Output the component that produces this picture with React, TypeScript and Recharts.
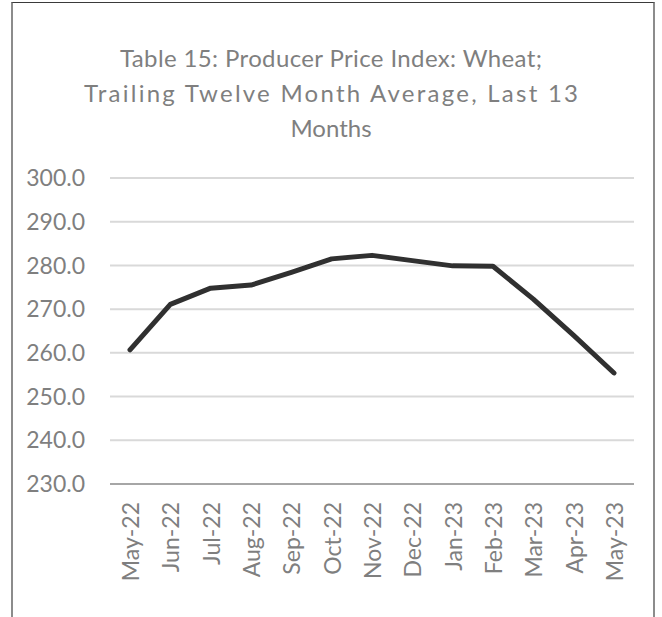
import React from 'react';
import { LineChart, Line, XAxis, YAxis, CartesianGrid } from 'recharts';

const months = ['May-22', 'Jun-22', 'Jul-22', 'Aug-22', 'Sep-22', 'Oct-22', 'Nov-22', 'Dec-22', 'Jan-23', 'Feb-23', 'Mar-23', 'Apr-23', 'May-23'];
const ppiValues = [260.7, 271.1, 274.8, 275.5, 278.4, 281.5, 282.3, 281.1, 279.9, 279.8, 272.3, 264.0, 255.4];
const yTicks = [230, 240, 250, 260, 270, 280, 290, 300];
const titleLines = ['Table 15: Producer Price Index: Wheat;', 'Trailing Twelve Month Average, Last 13', 'Months'];
const titleLengths = [422, 494, undefined];

const data = months.map((m, i) => ({ month: m, value: ppiValues[i] }));

const FONT = 'Lato, "Open Sans", sans-serif';
const TEXT_COLOR = '#7f7f7f';

const XTick = (props: any) => {
  const { x, y, payload } = props;
  return (
    <text
      transform={`translate(${x},${y + 18}) rotate(-90)`}
      textAnchor="end"
      dominantBaseline="central"
      fill={TEXT_COLOR}
      fontSize={23}
      fontFamily={FONT}
    >
      {payload.value}
    </text>
  );
};

export default function App() {
  return (
    <div style={{ position: 'absolute', left: 0, top: 0, width: 662, height: 617, overflow: 'hidden', background: '#fff' }}>
      <div
        style={{
          position: 'absolute',
          left: 11,
          top: 2,
          width: 640,
          height: 640,
          borderTop: '1px solid #3a3a3a',
          borderLeft: '2px solid #8c8c8c',
          borderRight: '2px solid #8c8c8c',
        }}
      />
      <svg style={{ position: 'absolute', left: 0, top: 0 }} width={662} height={150}>
        {titleLines.map((t, i) => (
          <text
            key={t}
            x={331}
            y={57 + i * 35}
            textAnchor="middle"
            dominantBaseline="central"
            fontFamily={FONT}
            fontSize={24}
            fill={TEXT_COLOR}
            textLength={titleLengths[i]}
            lengthAdjust="spacing"
          >
            {t}
          </text>
        ))}
      </svg>
      <div style={{ position: 'absolute', left: 0, top: 0 }}>
        <LineChart width={662} height={617} data={data} margin={{ top: 178, right: 28, bottom: 0, left: 0 }}>
          <CartesianGrid horizontal vertical={false} stroke="#d9d9d9" strokeWidth={2} />
          <XAxis
            dataKey="month"
            interval={0}
            height={133}
            tickLine={false}
            tickSize={0}
            tickMargin={0}
            axisLine={{ stroke: '#a6a6a6', strokeWidth: 2 }}
            padding={{ left: 20, right: 20 }}
            tick={<XTick />}
          />
          <YAxis
            domain={[230, 300]}
            ticks={yTicks}
            interval={0}
            width={110}
            axisLine={false}
            tickLine={false}
            tickSize={0}
            tickMargin={25}
            tickFormatter={(v: number) => v.toFixed(1)}
            tick={{ fill: TEXT_COLOR, fontSize: 23, fontFamily: FONT }}
          />
          <Line
            type="linear"
            dataKey="value"
            stroke="#303030"
            strokeWidth={5}
            dot={false}
            activeDot={false}
            strokeLinejoin="round"
            strokeLinecap="round"
            isAnimationActive={false}
          />
        </LineChart>
      </div>
    </div>
  );
}
